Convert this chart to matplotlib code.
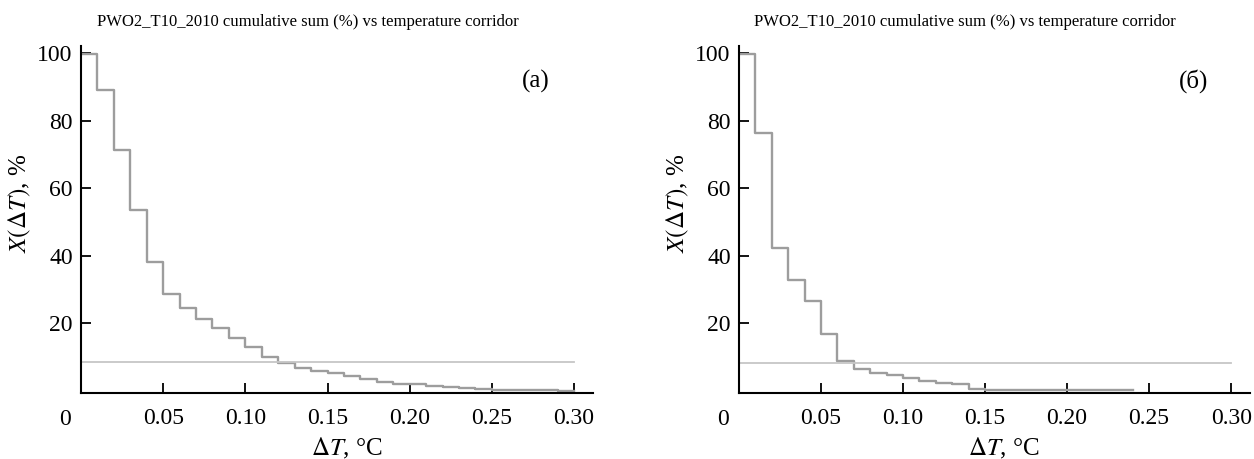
import matplotlib
matplotlib.use("Agg")
import matplotlib.pyplot as plt

plt.rcParams['font.family'] = ['Liberation Serif', 'DejaVu Serif']
plt.rcParams['mathtext.fontset'] = 'stix'

# ширина интервала по dT, °C
step = 0.01

# (а) - кумулятивная сумма, %
left_vals = [99.6, 89.2, 71.2, 53.5, 38.2, 28.5, 24.5, 21.2, 18.7, 15.5,
             12.8, 10.0, 8.2, 6.8, 5.8, 5.2, 4.3, 3.4, 2.7, 2.1,
             1.9, 1.4, 1.1, 0.8, 0.35, 0.1, 0.05, 0.05, 0.05, 0.0]
left_level = 8.4

# (б)
right_vals = [99.6, 76.3, 42.3, 32.9, 26.5, 16.7, 8.8, 6.4, 5.3, 4.7,
              3.6, 2.8, 2.3, 1.9, 0.4, 0.1, 0.05, 0.05, 0.05, 0.05,
              0.05, 0.05, 0.05, 0.05]
right_level = 8.1

title = "PWO2_T10_2010 cumulative sum (%) vs temperature corridor"
xticks = [0.05, 0.10, 0.15, 0.20, 0.25, 0.30]
yticks = [20, 40, 60, 80, 100]
fs = 17


def draw_panel(ax, vals, level, tag):
    edges = [i * step for i in range(len(vals) + 1)]
    ax.step(edges, vals + [vals[-1]], where='post', color='#9d9d9d', lw=1.7)
    ax.plot([0, 0.30], [level, level], color='#c6c6c6', lw=1.3)
    ax.set_xlim(0, 0.3115)
    ax.set_ylim(-0.7, 102.1)
    ax.set_xticks(xticks)
    ax.set_xticklabels(["%.2f" % t for t in xticks])
    ax.set_yticks(yticks)
    ax.tick_params(direction='in', length=7, width=1.3, labelsize=fs)
    ax.tick_params(axis='x', pad=11)
    ax.tick_params(axis='y', pad=6)
    for s in ['top', 'right']:
        ax.spines[s].set_visible(False)
    for s in ['left', 'bottom']:
        ax.spines[s].set_linewidth(1.5)
    ax.text(-0.031, -0.046, "0", transform=ax.transAxes, ha='center',
            va='top', fontsize=fs)
    ax.set_xlabel(r"$\Delta T$, °C", fontsize=fs + 1)
    ax.xaxis.set_label_coords(0.5186, -0.125)
    ax.set_ylabel(r"$X(\Delta T)$, %", fontsize=fs + 1)
    ax.yaxis.set_label_coords(-0.094, 0.547)
    ax.text(0.443, 1.07, title, transform=ax.transAxes, ha='center',
            va='center', fontsize=12)
    ax.text(0.889, 0.899, tag, transform=ax.transAxes, ha='center',
            va='center', fontsize=fs + 1)


fig = plt.figure(figsize=(12.54, 4.59), dpi=100)
ax1 = fig.add_axes([81 / 1254, 66 / 459, 512 / 1254, 347 / 459])
ax2 = fig.add_axes([739 / 1254, 66 / 459, 511 / 1254, 347 / 459])

draw_panel(ax1, left_vals, left_level, "(а)")
draw_panel(ax2, right_vals, right_level, "(б)")

fig.savefig("out.png", dpi=100)
